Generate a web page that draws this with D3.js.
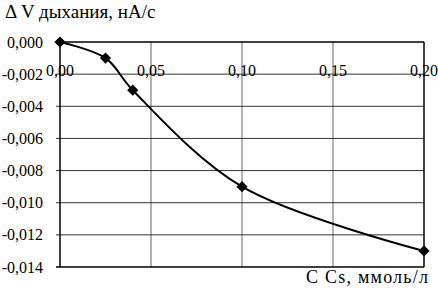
<!DOCTYPE html>
<html><head><meta charset="utf-8">
<script src="https://cdn.jsdelivr.net/npm/d3@7"></script>
<style>body{margin:0;background:#fff}svg{display:block}text{font-family:"Liberation Serif","Times New Roman",serif;fill:#000}</style>
</head><body><svg id="c" width="438" height="290"></svg>
<script>
const xValues = [0, 0.025, 0.04, 0.10, 0.20];
const yValues = [0, -0.001, -0.003, -0.009, -0.013];
const xTicks = [0, 0.05, 0.10, 0.15, 0.20];
const yTicks = [0, -0.002, -0.004, -0.006, -0.008, -0.010, -0.012, -0.014];
const yTitle = "Δ V дыхания, нА/с";
const xTitle = "С Cs, ммоль/л";

const svg = d3.select("#c");
const x = d3.scaleLinear().domain([0, 0.20]).range([60, 424]);
const y = d3.scaleLinear().domain([0, -0.014]).range([42, 267]);
const fmt = (d, n) => d3.format("." + n + "f")(d).replace(".", ",").replace("−", "-");

svg.append("g").selectAll("line").data(xTicks.filter(d => d > 0 && d < 0.2)).join("line")
  .attr("x1", d => x(d)).attr("x2", d => x(d)).attr("y1", y(0)).attr("y2", y(-0.014))
  .attr("stroke", "#999").attr("stroke-width", 1.5);
svg.append("g").selectAll("line").data(yTicks).join("line")
  .attr("x1", 56).attr("x2", x(0.2)).attr("y1", d => y(d)).attr("y2", d => y(d))
  .attr("stroke", d => (d === 0 || d === -0.014) ? "#000" : "#333").attr("stroke-width", d => (d === 0 || d === -0.014) ? 1.5 : 1);
svg.append("line").attr("x1", x(0)).attr("x2", x(0)).attr("y1", y(0)).attr("y2", y(-0.014)).attr("stroke", "#000").attr("stroke-width", 1.5);
svg.append("line").attr("x1", x(0.2)).attr("x2", x(0.2)).attr("y1", y(0)).attr("y2", y(-0.014)).attr("stroke", "#000").attr("stroke-width", 1.5);

svg.append("g").selectAll("text").data(yTicks).join("text")
  .attr("x", 43).attr("y", d => y(d)).attr("dy", "0.35em").attr("text-anchor", "end")
  .attr("font-size", 16).text(d => fmt(d, 3));
svg.append("g").selectAll("text").data(xTicks).join("text")
  .attr("x", d => x(d)).attr("y", 76).attr("text-anchor", "middle")
  .attr("font-size", 16).text(d => fmt(d, 2));

const pts = xValues.map((d, i) => [x(d), y(yValues[i])]);
svg.append("path").attr("d", d3.line().curve(d3.curveCatmullRom.alpha(0.5))(pts))
  .attr("fill", "none").attr("stroke", "#000").attr("stroke-width", 2);
svg.append("g").selectAll("path").data(pts).join("path")
  .attr("transform", d => `translate(${d[0]},${d[1]})`)
  .attr("d", d3.symbol(d3.symbolDiamond2, 80))
  .attr("fill", "#000");

svg.append("text").attr("x", 5).attr("y", 18).attr("font-size", 19).text(yTitle);
svg.append("text").attr("x", 306).attr("y", 283).attr("font-size", 18)
  .attr("textLength", 122).attr("lengthAdjust", "spacing").text(xTitle);
</script></body></html>
